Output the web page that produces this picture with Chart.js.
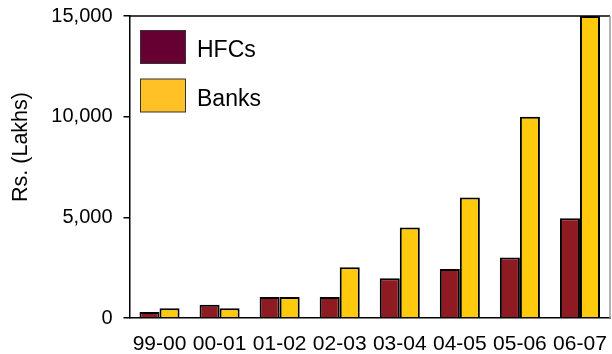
<!DOCTYPE html>
<html>
<head>
<meta charset="utf-8">
<script src="https://cdn.jsdelivr.net/npm/chart.js@4.4.1/dist/chart.umd.min.js"></script>
<style>
  html, body { margin: 0; padding: 0; background: #fff; }
  #wrap { width: 612px; height: 354px; position: relative; }
</style>
</head>
<body>
<div id="wrap"><canvas id="c" width="612" height="354"></canvas></div>
<script>
const categories = ['99-00', '00-01', '01-02', '02-03', '03-04', '04-05', '05-06', '06-07'];
const hfcValues = [300, 660, 1040, 1040, 1970, 2430, 3000, 4950];
const bankValues = [480, 480, 1040, 2520, 4490, 5980, 10000, 15000];
const seriesNames = ['HFCs', 'Banks'];
const yTicks = [0, 5000, 10000, 15000];
const yTitle = 'Rs. (Lakhs)';

const FONT = "'Liberation Sans', Arial, sans-serif";
const legendColors = ['#660033', '#FFC125'];

const decor = {
  id: 'decor',
  afterDraw(chart) {
    const ctx = chart.ctx;
    const a = chart.chartArea;
    ctx.save();
    // top border
    ctx.strokeStyle = '#000';
    ctx.lineWidth = 1.5;
    ctx.beginPath();
    ctx.moveTo(a.left, a.top);
    ctx.lineTo(a.right, a.top);
    ctx.stroke();
    // right border
    ctx.strokeStyle = '#999';
    ctx.lineWidth = 1.5;
    ctx.beginPath();
    ctx.moveTo(a.right, a.top);
    ctx.lineTo(a.right, a.bottom);
    ctx.stroke();
    // y title
    ctx.save();
    ctx.translate(21, 147);
    ctx.rotate(-Math.PI / 2);
    ctx.fillStyle = '#000';
    ctx.font = '21.5px ' + FONT;
    ctx.textAlign = 'center';
    ctx.textBaseline = 'middle';
    ctx.fillText(yTitle, 0, 0);
    ctx.restore();
    // legend
    ctx.font = '23px ' + FONT;
    ctx.textAlign = 'left';
    ctx.textBaseline = 'alphabetic';
    const boxX = a.left + 11;
    const boxes = [30.5, 79];
    seriesNames.forEach((name, i) => {
      ctx.fillStyle = legendColors[i];
      ctx.fillRect(boxX, boxes[i], 45, 33);
      ctx.strokeStyle = '#333';
      ctx.lineWidth = 1;
      ctx.strokeRect(boxX, boxes[i], 45, 33);
      ctx.fillStyle = '#000';
      ctx.fillText(name, 197, boxes[i] + 26.5);
    });
    ctx.restore();
  }
};

new Chart(document.getElementById('c'), {
  type: 'bar',
  data: {
    labels: categories,
    datasets: [
      { label: seriesNames[0], data: hfcValues, backgroundColor: '#8E1B21', borderColor: '#000', borderWidth: 2,
        categoryPercentage: 0.667, barPercentage: 1.0 },
      { label: seriesNames[1], data: bankValues, backgroundColor: '#FFC90E', borderColor: '#000', borderWidth: 2,
        categoryPercentage: 0.667, barPercentage: 1.0 }
    ]
  },
  options: {
    responsive: false,
    animation: false,
    devicePixelRatio: 1,
    layout: { padding: { left: 0, top: 16, right: 2, bottom: 0 } },
    plugins: { legend: { display: false }, tooltip: { enabled: false } },
    scales: {
      x: {
        grid: { display: false, drawTicks: false },
        border: { color: '#000', width: 1.5 },
        ticks: { color: '#000', font: { family: FONT, size: 21 }, padding: 14, maxRotation: 0, autoSkip: false },
        afterFit(s) { s.height = 36; s.paddingLeft = 0; s.paddingRight = 0; }
      },
      y: {
        min: 0, max: 15000,
        afterBuildTicks(s) { s.ticks = yTicks.map(v => ({ value: v })); },
        grid: { drawOnChartArea: false, drawTicks: true, tickLength: 6, color: '#000', lineWidth: 1.5 },
        border: { color: '#000', width: 1.5 },
        ticks: { color: '#000', font: { family: FONT, size: 20 }, padding: 11,
          callback: v => Number(v).toLocaleString('en-US') },
        afterFit(s) { s.width = 129.5; s.paddingTop = 0; s.paddingBottom = 0; }
      }
    }
  },
  plugins: [decor]
});
</script>
</body>
</html>
